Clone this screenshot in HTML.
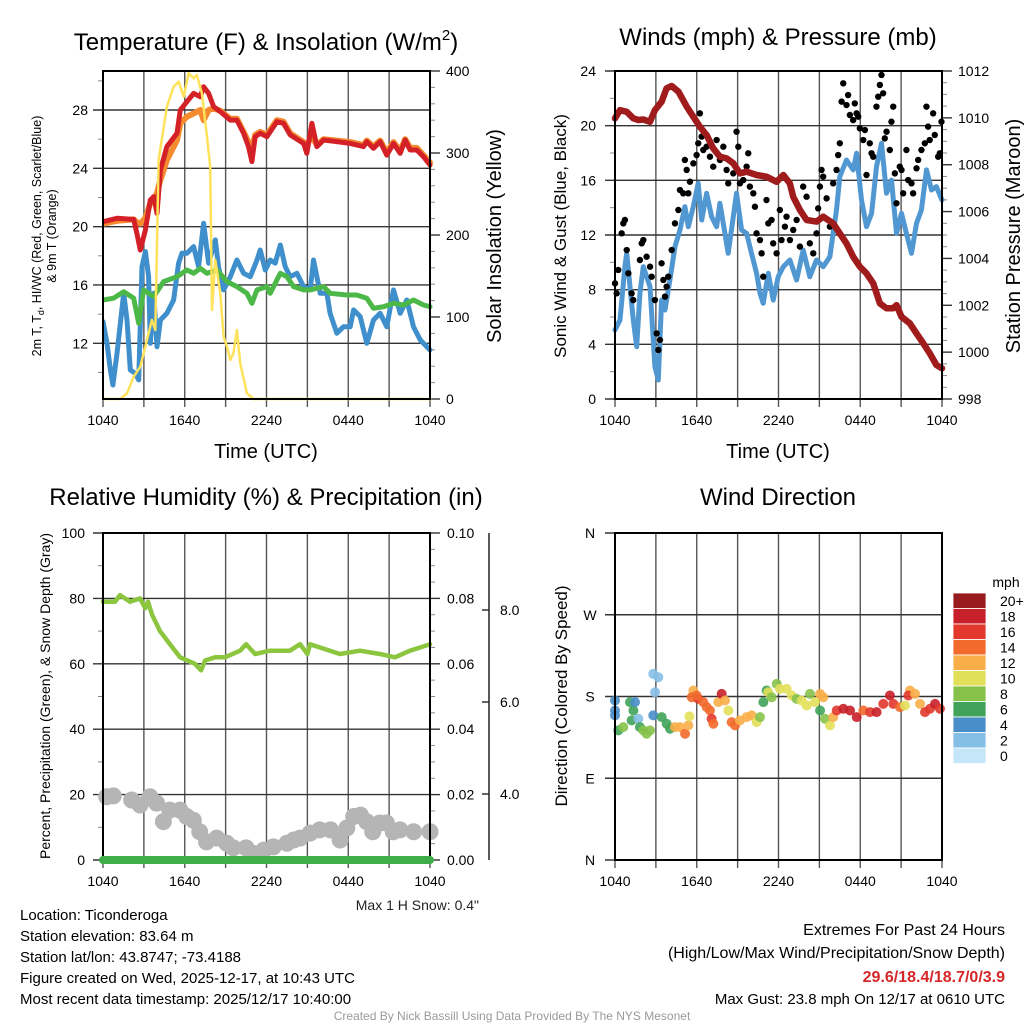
<!DOCTYPE html>
<html><head><meta charset="utf-8"><style>
html,body{margin:0;padding:0;background:#fff;}
svg{display:block;font-family:"Liberation Sans",sans-serif;}
</style></head><body>
<svg id="chart" width="1024" height="1024" viewBox="0 0 1024 1024" xmlns="http://www.w3.org/2000/svg">
<rect width="1024" height="1024" fill="#fff"/>
<g id="p1"></g>
<g id="p2"></g>
<g id="p3"></g>
<g id="p4"></g>
<text x="266" y="50" font-size="24" text-anchor="middle">Temperature (F) &amp; Insolation (W/m<tspan font-size="15" dy="-10">2</tspan><tspan dy="10">)</tspan></text>
<text x="778" y="45" font-size="24" text-anchor="middle">Winds (mph) &amp; Pressure (mb)</text>
<text x="266" y="505" font-size="24" text-anchor="middle">Relative Humidity (%) &amp; Precipitation (in)</text>
<text x="778" y="505" font-size="24" text-anchor="middle">Wind Direction</text>
<text x="266" y="458" font-size="20" text-anchor="middle">Time (UTC)</text>
<text x="778" y="458" font-size="20" text-anchor="middle">Time (UTC)</text>
<text transform="translate(41,236) rotate(-90)" font-size="12.5" text-anchor="middle">2m T, T<tspan font-size="9" dy="3">d</tspan><tspan dy="-3">, HI/WC (Red, Green, Scarlet/Blue)</tspan></text>
<text transform="translate(56,236) rotate(-90)" font-size="12.5" text-anchor="middle">&amp; 9m T (Orange)</text>
<text transform="translate(501,236) rotate(-90)" font-size="20" text-anchor="middle">Solar Insolation (Yellow)</text>
<text transform="translate(566,236) rotate(-90)" font-size="17" text-anchor="middle">Sonic Wind &amp; Gust (Blue, Black)</text>
<text transform="translate(1020,236) rotate(-90)" font-size="20" text-anchor="middle">Station Pressure (Maroon)</text>
<text transform="translate(50,696) rotate(-90)" font-size="14" text-anchor="middle">Percent, Precipitation (Green), &amp; Snow Depth (Gray)</text>
<text transform="translate(567,696) rotate(-90)" font-size="17" text-anchor="middle">Direction (Colored By Speed)</text>
<text x="479" y="910" font-size="14" text-anchor="end" fill="#222">Max 1 H Snow: 0.4"</text>
<g font-size="15">
<text x="20" y="920">Location: Ticonderoga</text>
<text x="20" y="941">Station elevation: 83.64 m</text>
<text x="20" y="962">Station lat/lon: 43.8747; -73.4188</text>
<text x="20" y="983">Figure created on Wed, 2025-12-17, at 10:43 UTC</text>
<text x="20" y="1004">Most recent data timestamp: 2025/12/17 10:40:00</text>
</g>
<g font-size="16" text-anchor="end">
<text x="1005" y="935">Extremes For Past 24 Hours</text>
<text x="1005" y="958">(High/Low/Max Wind/Precipitation/Snow Depth)</text>
<text x="1005" y="982" fill="#d62728" font-weight="bold">29.6/18.4/18.7/0/3.9</text>
<text x="1005" y="1004" font-size="15">Max Gust: 23.8 mph On 12/17 at 0610 UTC</text>
</g>
<text x="512" y="1020" font-size="12" fill="#999" text-anchor="middle">Created By Nick Bassill Using Data Provided By The NYS Mesonet</text>
</svg>
<script>
const tempRedHours=[0,1.03,2.25,2.49,2.74,3.11,3.47,3.72,3.96,4.21,4.69,5.43,5.67,6.16,6.65,7.14,7.38,7.75,8.12,8.61,9.34,9.83,10.32,10.68,10.93,11.17,11.54,12.03,12.76,13.25,13.74,14.72,14.96,15.33,15.7,16.19,17.16,18.14,19.12,19.36,19.85,20.34,20.83,21.32,21.81,22.18,22.54,23.03,23.52,24];
const tempRed=[20.34,20.57,20.5,19.54,18.4,19.77,21.83,22.06,20.91,23.89,25.49,26.4,28.0,28.57,29.14,28.91,29.6,29.14,28.23,27.89,27.31,27.31,26.4,25.49,24.46,26.17,26.4,26.17,27.2,27.09,26.29,25.71,25.03,27.09,25.49,25.94,25.83,25.71,25.49,25.83,25.37,25.83,24.91,25.71,25.03,25.94,25.26,25.26,24.8,24.23];
const temp9m=[20.2,20.4,20.5,20.3,20.2,20.6,21.6,21.8,22.3,23.2,24.57,25.94,27.09,27.54,27.77,28.0,27.31,28.0,28.1,27.95,27.4,27.4,26.5,25.8,25.3,26.3,26.5,26.3,27.3,27.2,26.4,25.8,25.6,26.2,25.6,26.0,25.9,25.8,25.6,25.9,25.5,25.9,25.1,25.8,25.2,26.0,25.4,25.4,24.9,24.4];
const dewHours=[0,.78,1.52,2.25,2.62,2.98,3.72,4.45,5.43,6.16,6.65,7.14,7.63,8.36,9.1,9.83,10.56,10.93,11.3,12.03,12.27,13.01,13.5,13.99,14.72,15.21,16.19,16.67,17.9,18.63,19.36,19.85,20.59,21.32,22.05,22.79,23.52,24];
const dewpoint=[14.97,15.09,15.54,15.09,13.37,15.66,15.2,16.23,16.57,17.03,16.8,17.14,16.8,17.03,16.23,15.89,15.43,14.74,15.66,15.89,15.43,16.8,16.57,15.89,15.66,15.66,15.89,15.43,15.31,15.31,15.09,14.4,14.51,14.74,14.63,14.97,14.63,14.51];
const chillHours=[0,.29,.54,.73,1.03,1.52,1.76,2.0,2.37,2.62,2.86,3.11,3.35,3.47,3.72,3.96,4.21,4.69,5.18,5.55,5.79,6.16,6.65,7.02,7.38,7.75,8.24,8.48,8.85,9.34,9.83,10.32,10.81,11.3,11.54,11.91,12.27,12.64,13.01,13.37,13.74,14.23,14.72,15.21,15.45,15.94,16.43,16.67,17.16,17.65,18.14,18.39,18.88,19.36,19.85,20.34,20.83,21.32,21.81,22.3,22.79,23.28,24];
const windChill=[13.49,12.0,10.17,9.14,11.31,15.43,13.6,10.17,9.94,9.49,17.26,18.29,16.57,12.0,15.43,11.77,13.6,14.06,14.97,17.49,18.17,18.17,18.63,17.26,20.23,17.49,19.09,17.26,15.66,16.57,17.71,16.8,16.57,17.71,18.4,17.03,17.71,17.49,18.74,17.26,16.57,16.8,15.89,15.66,17.71,15.43,15.43,14.06,12.69,13.14,13.14,14.29,13.83,12.0,13.6,14.06,13.14,15.66,14.06,14.97,13.14,12.23,11.54];
const solarHours=[0,1.27,1.76,2.25,2.74,3.23,3.59,3.84,4.08,4.69,5.18,5.55,5.92,6.28,6.65,6.89,7.26,7.63,7.87,8.0,8.24,8.61,8.85,9.1,9.34,9.58,9.83,10.07,10.56,11.05,24];
const solar=[0,0,6.9,27.2,39.4,72,96.3,84.1,291.5,356.5,380.9,387,368.7,397.2,391.1,395.1,372.8,319.9,283.3,108.5,169.5,128.9,76,63.8,47.6,55.7,84.1,43.5,6.9,0,0];
const timeTicks=["1040","1640","2240","0440","1040"];
const tempTicks=[12,16,20,24,28];
const solarTicks=[0,100,200,300,400];
const presHours=[0,.37,.86,1.34,1.71,2.08,2.57,2.93,3.42,3.79,4.16,4.65,5.26,5.75,6.23,6.72,7.21,7.7,8.19,8.68,9.17,9.66,10.39,11.12,11.86,12.35,12.84,13.08,13.57,14.06,14.79,15.28,16.01,16.5,16.99,17.48,17.97,18.46,18.95,19.44,19.93,20.42,20.66,21.03,21.64,22.13,22.62,23.1,23.59,24];
const pressure=[1009.98,1010.33,1010.26,1009.98,1009.91,1009.93,1009.83,1010.33,1010.69,1011.26,1011.36,1011.12,1010.48,1010.05,1009.62,1009.27,1008.7,1008.34,1008.27,1008.06,1007.63,1007.7,1007.56,1007.49,1007.27,1007.56,1007.2,1006.63,1006.07,1005.64,1005.57,1005.78,1005.5,1005.07,1004.64,1004.07,1003.65,1003.36,1002.94,1002.08,1001.87,1001.87,1002.01,1001.51,1001.23,1000.8,1000.38,999.95,999.45,999.31];
const windHours=[0,.37,.73,.86,1.1,1.34,1.59,1.83,2.08,2.57,2.93,3.18,3.42,3.67,4.03,4.4,4.77,5.13,5.38,5.75,6.11,6.36,6.72,7.09,7.46,7.7,7.95,8.31,8.68,8.92,9.29,9.66,10.02,10.39,10.64,10.88,11.25,11.61,11.98,12.35,12.84,13.33,13.81,14.3,14.79,15.28,15.77,16.01,16.26,16.5,16.99,17.48,17.73,18.09,18.46,18.83,19.19,19.56,19.93,20.29,20.66,21.03,21.39,21.76,22.13,22.49,22.86,23.23,23.59,24];
const windSpeed=[5.05,5.78,9.68,10.66,8.22,5.78,3.83,7.73,9.68,8.22,2.37,1.39,7.24,6.51,8.71,11.15,12.37,14.07,12.61,14.07,15.78,13.1,15.05,13.34,12.61,14.32,12.85,10.66,13.34,15.05,12.37,12.12,10.66,9.2,7.73,7.0,9.2,7.24,8.95,9.68,10.17,8.71,10.9,8.95,10.17,9.68,10.41,12.12,13.83,16.27,17.49,16.76,17.98,14.56,12.61,13.59,17.0,18.71,15.05,16.02,12.12,13.59,12.12,10.66,12.85,13.83,16.76,15.29,15.54,14.56];
const gustHours=[0,.12,.24,.49,.61,.73,.86,.98,1.22,1.34,1.83,1.96,2.08,2.32,2.57,2.69,2.93,3.06,3.18,3.3,3.42,3.55,3.67,3.79,3.91,4.16,4.4,4.65,4.77,5.01,5.13,5.26,5.38,5.5,5.75,5.99,6.11,6.23,6.36,6.48,6.72,6.97,7.21,7.46,7.7,7.95,8.19,8.31,8.68,8.92,9.05,9.17,9.41,9.66,9.78,9.9,10.15,10.27,10.39,10.64,10.76,10.88,11.12,11.25,11.49,11.61,11.86,12.1,12.22,12.47,12.59,12.84,13.08,13.33,13.57,13.81,14.06,14.3,14.55,14.79,14.91,15.04,15.16,15.28,15.53,15.77,16.01,16.26,16.38,16.5,16.63,16.75,16.99,17.11,17.24,17.48,17.6,17.73,17.85,17.97,18.22,18.34,18.46,18.7,18.83,18.95,19.19,19.32,19.44,19.56,19.68,19.8,19.93,20.17,20.29,20.42,20.54,20.66,20.9,21.03,21.15,21.39,21.52,21.76,21.88,22.13,22.25,22.49,22.74,22.86,22.98,23.1,23.35,23.47,23.72,23.84,23.96];
const gustSpeed=[8.46,7.73,9.44,12.12,12.85,13.1,10.9,9.2,7.73,7.24,10.17,11.39,11.63,10.41,9.68,8.95,7.24,4.8,3.59,4.32,9.93,8.71,7.49,8.22,8.95,10.9,12.85,13.83,15.29,15.05,17.49,16.76,15.05,15.9,17.24,17.85,18.71,20.9,19.2,18.22,18.46,17.73,17.0,18.95,17.49,18.46,16.76,15.78,16.51,19.56,18.46,15.78,16.02,17.0,17.98,15.54,15.05,14.07,12.12,11.63,10.66,8.95,14.56,12.85,13.1,11.39,10.66,13.83,11.63,12.61,13.34,11.63,12.37,13.1,11.15,15.54,14.8,11.39,10.66,12.12,13.95,15.54,16.76,16.27,14.68,12.61,15.78,16.76,17.85,18.71,21.76,23.1,21.51,22.24,20.78,20.41,21.63,20.9,20.66,19.8,18.95,19.68,16.39,18.71,17.98,17.73,21.39,22.12,22.98,23.71,22.37,19.07,19.56,18.22,20.29,21.39,16.51,14.32,17.0,16.76,15.05,18.22,16.02,15.78,15.05,16.88,17.49,18.22,18.71,21.39,19.93,18.95,20.9,19.32,17.73,17.98,20.29];
const windTicks=[0,4,8,12,16,20,24];
const presTicks=[998,1000,1002,1004,1006,1008,1010,1012];
const rhHours=[0,.88,1.25,1.98,2.72,3.1,3.3,3.6,4.18,4.92,5.65,6.75,7.2,7.49,8.22,8.95,10.06,10.5,11.16,12.26,13.72,14.46,15.0,15.19,15.93,17.39,18.86,20.33,21.43,22.53,23.27,24];
const rh=[79,79,81,79,80,77,79,75,70,66,62,60,58,61,62,62,64,66,63,64,64,66,63,66,65,63,64,63,62,64,65,66];
const precipHours=[0,24];
const precip=[0,0];
const snowHours=[0.27,0.76,2.1,2.72,3.45,3.94,4.43,4.9,5.65,6.14,6.63,7.1,7.6,8.35,9.08,9.56,10.5,11.0,11.8,12.5,13.5,14.0,14.46,15.2,15.9,16.7,17.4,17.9,18.4,18.9,19.35,19.8,20.3,20.8,21.3,21.8,22.8,24];
const snowDepth=[3.94,3.96,3.87,3.76,3.94,3.8,3.4,3.65,3.65,3.51,3.43,3.18,2.96,3.04,2.93,2.83,2.83,2.71,2.78,2.85,2.93,3.0,3.04,3.15,3.22,3.22,3.0,3.26,3.51,3.54,3.4,3.18,3.37,3.37,3.18,3.22,3.18,3.18];
const rhTicks=[0,20,40,60,80,100];
const precipTicks=["0.00","0.02","0.04","0.06","0.08","0.10"];
const snowTicks=["4.0","6.0","8.0"];
const dirHours=[0,0,0,.24,.61,1.1,1.35,1.47,1.22,1.71,1.83,2.08,2.32,2.57,2.81,3.18,2.94,2.81,3.43,3.79,4.04,4.4,4.77,5.14,5.38,5.46,5.75,5.63,6.12,5.99,6.48,6.73,6.97,7.09,7.22,7.58,7.83,8.07,8.32,8.56,8.81,9.17,9.66,10.03,10.4,10.64,10.89,11.13,11.25,11.5,11.87,12.11,12.6,12.97,13.33,13.7,14.07,14.31,14.68,15.05,15.29,15.05,15.41,15.78,16.02,16.27,16.76,17.25,17.74,18.23,18.72,19.2,19.69,20.18,20.43,20.92,21.28,21.65,21.53,22.02,22.39,22.75,23.12,23.49,23.85];
const dirDeg=[175.6,164.6,159.2,142.7,146.3,173.8,164.6,173.8,153.7,155.5,146.3,142.7,139,142.7,204.9,201.2,184.7,159.2,157.3,150,144.5,146.3,146.3,139,148.2,158.1,186.6,179.2,177.4,181.1,173.8,168.3,164.6,155.5,150,173.8,182.9,175.6,164.6,151.8,148.2,153.7,157.3,159.2,151.8,157.3,173.8,186.6,184.7,179.2,193.9,188.4,188.4,181.1,177.4,175.6,170.1,182.9,173.8,182.9,179.2,164.6,155.5,148.2,157.3,164.6,166.5,164.6,157.3,164.6,162.8,162.8,171.9,181.1,171.9,168.3,170.1,186.6,181.1,182.9,171.9,162.8,166.5,171.9,166.5];
const dirSpeed=[5,5,5,7,9,7,7,5,7,3,7,9,9,9,3,3,3,5,7,7,7,13,13,15,13,11,13,15,17,15,15,15,15,17,15,13,19,13,11,15,15,13,13,13,11,9,7,7,11,9,9,11,11,11,9,11,11,9,11,13,13,7,9,11,13,17,19,19,19,15,17,19,17,19,17,15,11,13,17,13,13,17,17,19,17];
const dirTicks=["N","E","S","W","N"];
const speedBins=["0","2","4","6","8","10","12","14","16","18","20+"];
const speedColors=["#c4e6f8","#86bfe6","#4a8ec9","#41a35a","#86c24a","#e2e05a","#f9ae48","#f26a2c","#e2392c","#c8202a","#9a1b1e"];

const NS="http://www.w3.org/2000/svg";
function mk(parent,tag,attrs,text){const e=document.createElementNS(NS,tag);for(const k in attrs)e.setAttribute(k,attrs[k]);if(text!==undefined)e.textContent=text;parent.appendChild(e);return e;}
function lin(d0,d1,r0,r1){return v=>r0+(v-d0)*(r1-r0)/(d1-d0);}

function frame(g,L,R,T,B,hTickYs,tx){
  for(let h=0;h<=24;h+=3){const x=tx(h);const ln=mk(g,'line',{x1:x,x2:x,y1:T,y2:B,stroke:'#555','stroke-width':1.4});
    
    
    mk(g,'line',{x1:x,x2:x,y1:B,y2:B+8,stroke:'#555','stroke-width':1.4});}
  hTickYs.forEach(y=>{const ln=mk(g,'line',{x1:L-10,x2:R,y1:y,y2:y,stroke:'#333','stroke-width':1.4});
    
    });
  mk(g,'rect',{x:L,y:T,width:R-L,height:B-T,fill:'none',stroke:'#000','stroke-width':2});
  timeTicks.forEach((t,i)=>{const lb=mk(g,'text',{x:tx(i*6),y:B+26,'font-size':14,'text-anchor':'middle'},t);
    
    });
}
function path(g,xs,ys,tx,ty,color,w,name){
  let d='';xs.forEach((h,i)=>{d+=(i?'L':'M')+tx(h).toFixed(1)+','+ty(ys[i]).toFixed(1);});
  const p=mk(g,'path',{d:d,fill:'none',stroke:color,'stroke-width':w,'stroke-linejoin':'round','stroke-linecap':'round'});
  
  
  return p;
}

(function(){
  const g=document.getElementById('p1');const L=103,R=430,T=71,B=399;
  const tx=lin(0,24,L,R);const ty=lin(12,28,343.3,110);const ts=lin(0,400,B,T);
  frame(g,L,R,T,B,tempTicks.map(ty),tx);
  tempTicks.forEach(v=>{const t=mk(g,'text',{x:88,y:ty(v)+5,'font-size':14,'text-anchor':'end'},v);
    
    });
  for(let v=10;v<=30;v+=2){if(v%4)mk(g,'line',{x1:L-5,x2:L,y1:ty(v),y2:ty(v),stroke:'#888'});}
  solarTicks.forEach(v=>{mk(g,'line',{x1:R,x2:R+10,y1:ts(v),y2:ts(v),stroke:'#333','stroke-width':1.4});
    const t=mk(g,'text',{x:446,y:ts(v)+5,'font-size':14},v);
    
    });
  for(let v=20;v<400;v+=20){if(v%100)mk(g,'line',{x1:R,x2:R+5,y1:ts(v),y2:ts(v),stroke:'#888'});}
  const cl=mk(g,'clipPath',{id:'c1'});mk(cl,'rect',{x:L,y:T-4,width:R-L+4,height:B-T+8});
  const dg=mk(g,'g',{'clip-path':'url(#c1)'});
  path(dg,chillHours,windChill,tx,ty,'#3f8fcc',5,'wind-chill-line');
  path(dg,dewHours,dewpoint,tx,ty,'#4cb848',5,'dewpoint-line');
  path(dg,tempRedHours,temp9m,tx,ty,'#f58a2e',6,'temp-9m-line');
  path(dg,tempRedHours,tempRed,tx,ty,'#d42027',5,'temp-2m-line');
  path(dg,solarHours,solar,tx,ts,'#fde25a',2.5,'solar-line');
  mk(g,'rect',{x:L,y:T,width:R-L,height:B-T,fill:'none',stroke:'#000','stroke-width':2});
})();

(function(){
  const g=document.getElementById('p2');const L=615,R=942,T=71,B=399;
  const tx=lin(0,24,L,R);const ty=lin(0,24,B,T);const tp=lin(998,1012,B,T);
  frame(g,L,R,T,B,windTicks.map(ty),tx);
  windTicks.forEach(v=>{const t=mk(g,'text',{x:596,y:ty(v)+5,'font-size':14,'text-anchor':'end'},v);
    
    });
  for(let v=2;v<24;v+=4)mk(g,'line',{x1:L-5,x2:L,y1:ty(v),y2:ty(v),stroke:'#888'});
  presTicks.forEach(v=>{mk(g,'line',{x1:R,x2:R+10,y1:tp(v),y2:tp(v),stroke:'#333','stroke-width':1.4});
    const t=mk(g,'text',{x:958,y:tp(v)+5,'font-size':14},v);
    
    });
  for(let v=998.5;v<1012;v+=0.5){if(v%2)mk(g,'line',{x1:R,x2:R+5,y1:tp(v),y2:tp(v),stroke:'#888'});}
  path(g,windHours,windSpeed,tx,ty,'#5198d2',5,'sonic-wind-line');
  gustHours.forEach((h,i)=>{const c=mk(g,'circle',{cx:tx(h),cy:ty(gustSpeed[i]),r:3.2,fill:'#000'});
    
    });
  path(g,presHours,pressure,tx,tp,'#a01c1c',6.5,'pressure-line');
  mk(g,'rect',{x:L,y:T,width:R-L,height:B-T,fill:'none',stroke:'#000','stroke-width':2});
})();

(function(){
  const g=document.getElementById('p3');const L=103,R=430,T=533,B=860;
  const tx=lin(0,24,L,R);const ty=lin(0,100,B,T);const tpr=lin(0,0.1,B,T);const tsn=lin(4,8,794,610);
  frame(g,L,R,T,B,rhTicks.map(ty),tx);
  rhTicks.forEach(v=>{const t=mk(g,'text',{x:85,y:ty(v)+5,'font-size':14,'text-anchor':'end'},v);
    
    });
  for(let v=10;v<100;v+=20)mk(g,'line',{x1:L-5,x2:L,y1:ty(v),y2:ty(v),stroke:'#888'});
  precipTicks.forEach((s,i)=>{const y=tpr(i*0.02);mk(g,'line',{x1:R,x2:R+10,y1:y,y2:y,stroke:'#333','stroke-width':1.4});
    const t=mk(g,'text',{x:447,y:y+5,'font-size':14},s);
    
    });
  for(let v=0.005;v<0.1;v+=0.005){if(Math.round(v*1000)%20)mk(g,'line',{x1:R,x2:R+5,y1:tpr(v),y2:tpr(v),stroke:'#888'});}
  const ax=mk(g,'line',{x1:489,x2:489,y1:T,y2:B,stroke:'#222','stroke-width':1.5});
  
  
  snowTicks.forEach(s=>{const y=tsn(parseFloat(s));mk(g,'line',{x1:482,x2:489,y1:y,y2:y,stroke:'#222','stroke-width':1.4});
    const t=mk(g,'text',{x:500,y:y+5,'font-size':14},s);
    
    });
  snowHours.forEach((h,i)=>{const c=mk(g,'circle',{cx:tx(h),cy:tsn(snowDepth[i]),r:8.5,fill:'#b5b5b5'});
    
    });
  path(g,rhHours,rh,tx,ty,'#8cc63f',4.5,'humidity-line');
  mk(g,'rect',{x:L,y:T,width:R-L,height:B-T,fill:'none',stroke:'#000','stroke-width':2});
  path(g,precipHours,precip,tx,tpr,'#3fae49',8,'precip-line');
})();

(function(){
  const g=document.getElementById('p4');const L=615,R=942,T=533,B=860;
  const tx=lin(0,24,L,R);const ty=lin(0,360,B,T);
  frame(g,L,R,T,B,[0,90,180,270,360].map(ty),tx);
  dirTicks.forEach((s,i)=>{const t=mk(g,'text',{x:590,y:ty(i*90)+5,'font-size':14,'text-anchor':'middle'},s);
    
    });
  dirHours.forEach((h,i)=>{const bin=Math.min(10,Math.floor(dirSpeed[i]/2));
    const c=mk(g,'circle',{cx:tx(h),cy:ty(dirDeg[i]),r:5,fill:speedColors[bin],'fill-opacity':0.9});
    
    });
  mk(g,'rect',{x:L,y:T,width:R-L,height:B-T,fill:'none',stroke:'#000','stroke-width':2});
  const lg=mk(g,'g',{});
  
  
  const bh=15.5,top=593;
  mk(lg,'text',{x:1006,y:587,'font-size':14,'text-anchor':'middle'},'mph');
  speedBins.forEach((s,i)=>{const k=10-i;const y=top+i*bh;
    mk(lg,'rect',{x:953,y:y,width:33,height:bh,fill:speedColors[k],stroke:'#fff','stroke-width':0.8});
    const t=mk(lg,'text',{x:1000,y:y+bh/2+5,'font-size':14},speedBins[k]);
    
    });
})();
</script>
</body></html>
